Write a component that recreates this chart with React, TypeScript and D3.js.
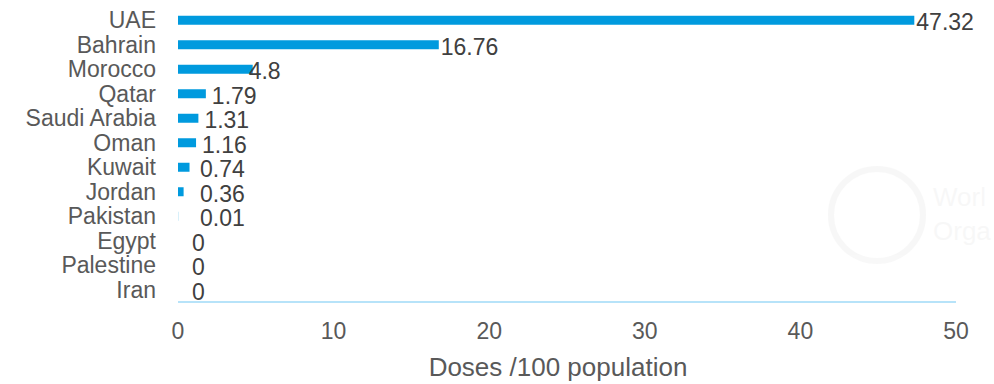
import React from "react";
import * as d3 from "d3";

const countries = ["UAE", "Bahrain", "Morocco", "Qatar", "Saudi Arabia", "Oman", "Kuwait", "Jordan", "Pakistan", "Egypt", "Palestine", "Iran"];
const doses = [47.32, 16.76, 4.8, 1.79, 1.31, 1.16, 0.74, 0.36, 0.01, 0, 0, 0];
const valueLabels = ["47.32", "16.76", "4.8", "1.79", "1.31", "1.16", "0.74", "0.36", "0.01", "0", "0", "0"];
const xTicks = [0, 10, 20, 30, 40, 50];
const axisTitle = "Doses /100 population";

const W = 994;
const H = 384;
const FONT = "'Liberation Sans', Arial, sans-serif";

export default function App() {
  const x = d3.scaleLinear().domain([0, 50]).range([178, 956]);
  const band = (302 - 8) / countries.length;
  const center = (c: string) => 8 + band * (countries.indexOf(c) + 0.5);

  return (
    <svg width={W} height={H} style={{ position: "absolute", left: 0, top: 0, background: "#fff" }}>
      <g opacity={0.05}>
        <circle cx={877} cy={215} r={46} fill="none" stroke="#777" strokeWidth={6} />
        <text x={933} y={206} fontFamily={FONT} fontSize={26} fill="#777">Worl</text>
        <text x={933} y={240} fontFamily={FONT} fontSize={26} fill="#777">Orga</text>
      </g>
      {countries.map((c, i) => {
        const cy = center(c);
        const v = doses[i];
        const x0 = x(0);
        const x1 = x(v);
        const lx = v === 0 ? x0 + 14 : v > 4 ? x1 - 4 + (v > 10 ? 6 : 0) : Math.max(x1 + 6, x0 + 22);
        return (
          <g key={c}>
            <text x={156} y={cy} dy="0.35em" textAnchor="end" fontFamily={FONT} fontSize={23} fill="#595959">{c}</text>
            <rect x={x0} y={cy - 4.5} width={Math.max(0, x1 - x0)} height={9} fill="#009ade" />
            <text x={lx} y={cy + 2} dy="0.35em" fontFamily={FONT} fontSize={23} fill="#404040">{valueLabels[i]}</text>
          </g>
        );
      })}
      <line x1={x(0)} x2={x(50)} y1={302} y2={302} stroke="#9fdaf7" strokeWidth={1.5} />
      {xTicks.map((t) => (
        <text key={t} x={x(t)} y={331} dy="0.35em" textAnchor="middle" fontFamily={FONT} fontSize={23} fill="#595959">{t}</text>
      ))}
      <text x={558} y={367} dy="0.35em" textAnchor="middle" fontFamily={FONT} fontSize={26} fill="#595959">{axisTitle}</text>
    </svg>
  );
}
